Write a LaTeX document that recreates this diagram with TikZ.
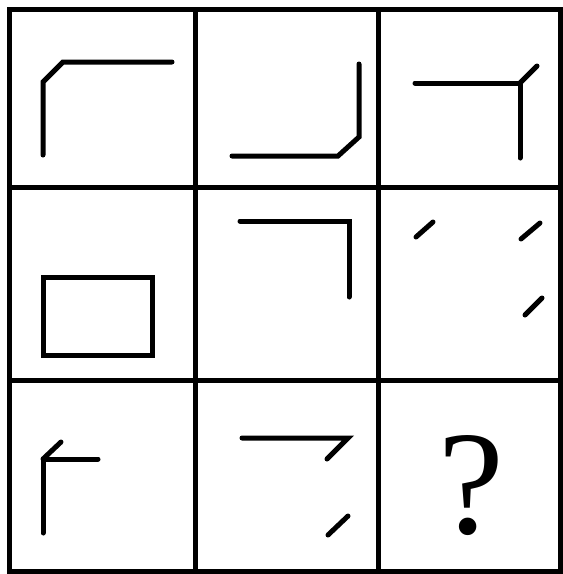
\documentclass[tikz,border=0pt]{standalone}
\usepackage{fontspec}
\setmainfont{Liberation Serif}
\usepackage{xcolor}
\definecolor{ink}{HTML}{000000}
\usepackage{tikz}
\usetikzlibrary{positioning}

\begin{document}
\begin{tikzpicture}[
    x=1pt, y=-1pt,
    gridline/.style={
      draw=ink,
      line width=5pt,
      line cap=rect
    },
    stroke/.style={
      draw=ink,
      line width=5pt,
      line cap=round,
      line join=miter
    },
    qsign/.style={
      font=\fontsize{148}{148}\selectfont,
      text=ink,
      inner sep=0pt
    }
  ]
    \useasboundingbox (0,0) rectangle (563,574);

    % Grid of three by three cells
    \draw[gridline] (9,9) rectangle (560,571);
    \draw[gridline] (195,9) -- (195,571);
    \draw[gridline] (378,9) -- (378,571);
    \draw[gridline] (9,187) -- (560,187);
    \draw[gridline] (9,380) -- (560,380);

    % First row
    \draw[stroke] (43,155) -- (43,82) -- (63,62) -- (172,62);
    \draw[stroke] (359,64) -- (359,137) -- (338,156) -- (232,156);
    \draw[stroke] (415,83) -- (520,83) -- (520,158);
    \draw[stroke] (520,83) -- (537,66);

    % Second row
    \draw[stroke] (43,277) rectangle (152,355);
    \draw[stroke] (240,221) -- (349,221) -- (349,297);
    \draw[stroke] (416,237) -- (433,222);
    \draw[stroke] (521,239) -- (540,223);
    \draw[stroke] (525,315) -- (542,298);

    % Third row
    \draw[stroke] (43,533) -- (43,459) -- (98,459);
    \draw[stroke] (43,459) -- (61,442);
    \draw[stroke] (242,438) -- (348,438) -- (327,459);
    \draw[stroke] (328,535) -- (348,516);
    \node[qsign, anchor=base] (qmark) at (471,533) {?};
  \end{tikzpicture}
\end{document}
